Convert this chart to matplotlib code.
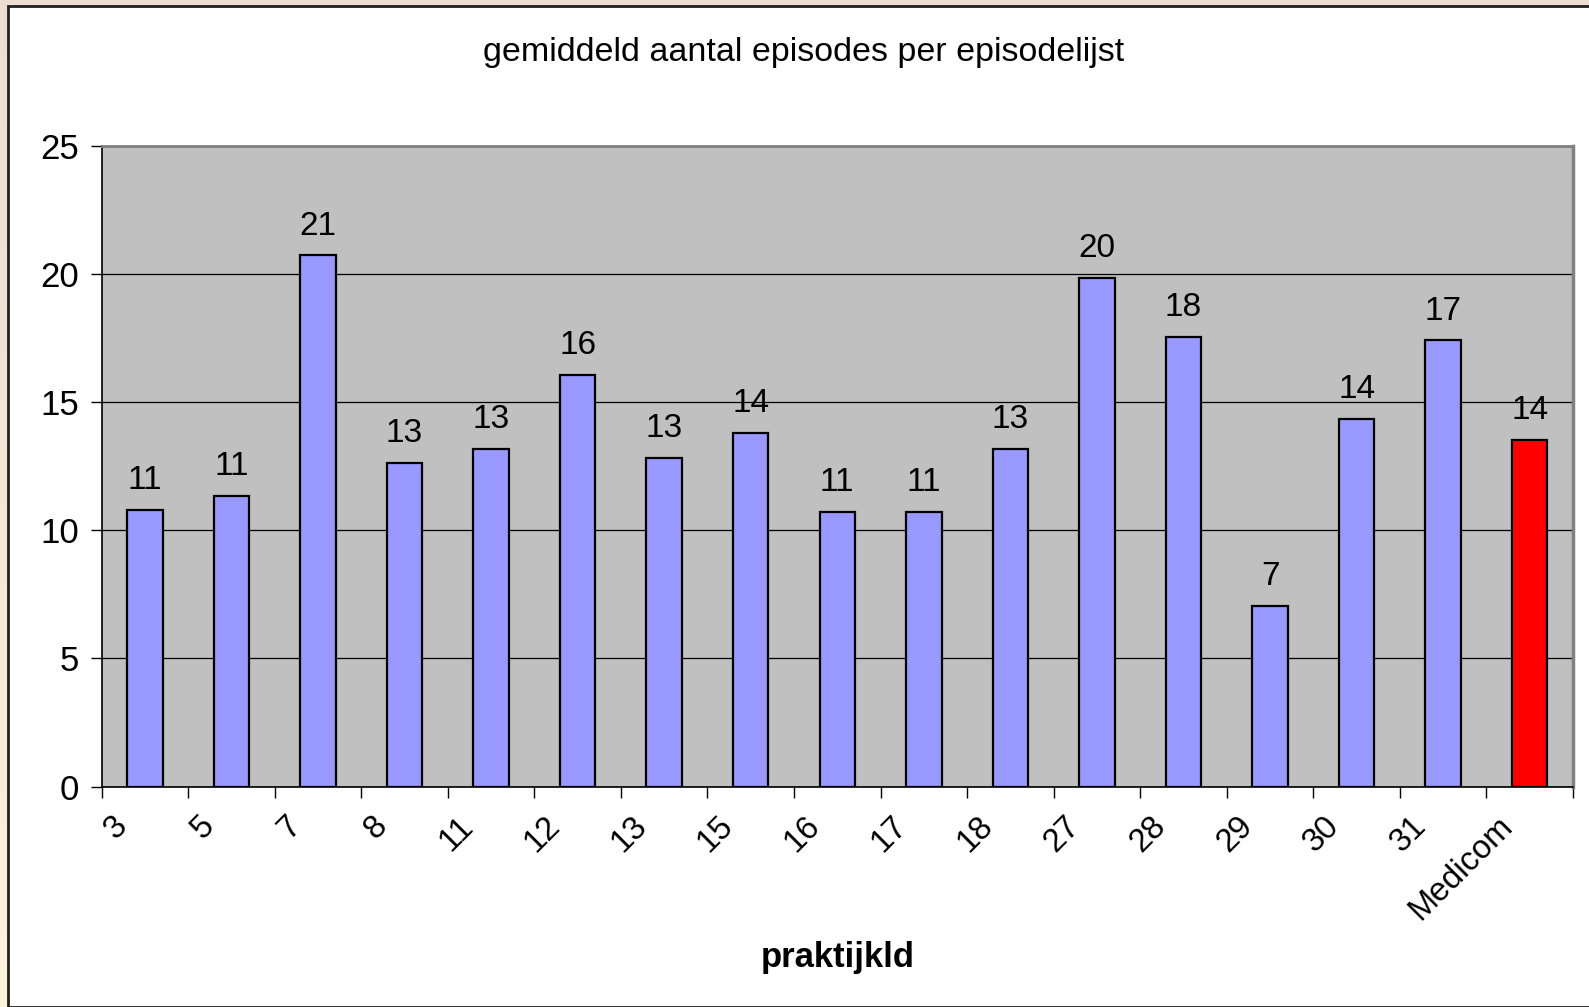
import matplotlib
matplotlib.use("Agg")
import matplotlib.pyplot as plt
import numpy as np
from matplotlib.patches import Rectangle
from matplotlib.transforms import ScaledTranslation
from matplotlib.colors import LinearSegmentedColormap

categories = ["3", "5", "7", "8", "11", "12", "13", "15", "16", "17", "18",
              "27", "28", "29", "30", "31", "Medicom"]
values = [10.80, 11.35, 20.73, 12.62, 13.17, 16.06, 12.82, 13.81, 10.72, 10.72,
          13.17, 19.86, 17.55, 7.04, 14.36, 17.41, 13.53]
bar_colors = ["#9999ff"] * 16 + ["#ff0000"]
title = "gemiddeld aantal episodes per episodelijst"
xlabel = "praktijkld"
yticks = [0, 5, 10, 15, 20, 25]

plt.rcParams['font.family'] = ['Liberation Sans', 'DejaVu Sans']

W, H = 1589, 1007
fig = plt.figure(figsize=(W / 100, H / 100), dpi=100)

# background gradient
bg = fig.add_axes([0, 0, 1, 1], zorder=-10)
grad = np.linspace(0, 1, 256)[:, None]
cmap = LinearSegmentedColormap.from_list("bg", ["#ecdcd2", "#f6e6d6", "#fdf4dc"])
bg.imshow(grad, aspect="auto", cmap=cmap, extent=[0, 1, 0, 1], origin="upper")
bg.set_axis_off()

# white panel with border
fig.patches.append(Rectangle((8 / W, 0), 1.0, 1 - 6 / H, transform=fig.transFigure,
                             facecolor="white", edgecolor="#202020", linewidth=2,
                             zorder=-5))

left, right = 101.5 / W, 1573 / W
top, bottom = 1 - 146 / H, 1 - 786.5 / H
ax = fig.add_axes([left, bottom, right - left, top - bottom])
ax.set_facecolor("#c0c0c0")

x = np.arange(len(categories))
bars = ax.bar(x, values, width=0.41, color=bar_colors, edgecolor="black",
              linewidth=1.6, zorder=3)
for xi, v in zip(x, values):
    ax.annotate(f"{v:.0f}", (xi, v), xytext=(0, 10), textcoords="offset points",
                ha="center", va="bottom", fontsize=24, color="black", zorder=4)

ax.set_xlim(-0.5, len(categories) - 0.5)
ax.set_ylim(0, 25)
ax.set_yticks(yticks)
ax.set_yticklabels([str(t) for t in yticks], fontsize=25)
ax.yaxis.grid(True, color="black", linewidth=0.9, zorder=1)
ax.set_axisbelow(True)

ax.set_xticks(np.arange(len(categories) + 1) - 0.5)
ax.set_xticklabels([])
ax.tick_params(axis="x", direction="out", length=8, width=1, color="black")
ax.tick_params(axis="y", direction="out", length=8, width=1, color="black", pad=8)

off = ScaledTranslation(-22 / 100, -35 / 100, fig.dpi_scale_trans)
for xi, lab in zip(x, categories):
    ax.text(xi, 0, lab, rotation=45, rotation_mode="anchor", ha="right", va="center",
            fontsize=23.5, transform=ax.get_xaxis_transform() + off)

for s in ["left", "bottom"]:
    ax.spines[s].set_color("black")
    ax.spines[s].set_linewidth(1.2)
ax.spines["top"].set_color("#808080")
ax.spines["top"].set_linewidth(2)
ax.spines["right"].set_color("#808080")
ax.spines["right"].set_linewidth(2.5)

fig.text(0.5057, 1 - 53 / H, title, ha="center", va="center", fontsize=24.5)
fig.text(0.527, 1 - 958 / H, xlabel, ha="center", va="center", fontsize=25,
         fontweight="bold")

fig.savefig("out.png", dpi=100)
